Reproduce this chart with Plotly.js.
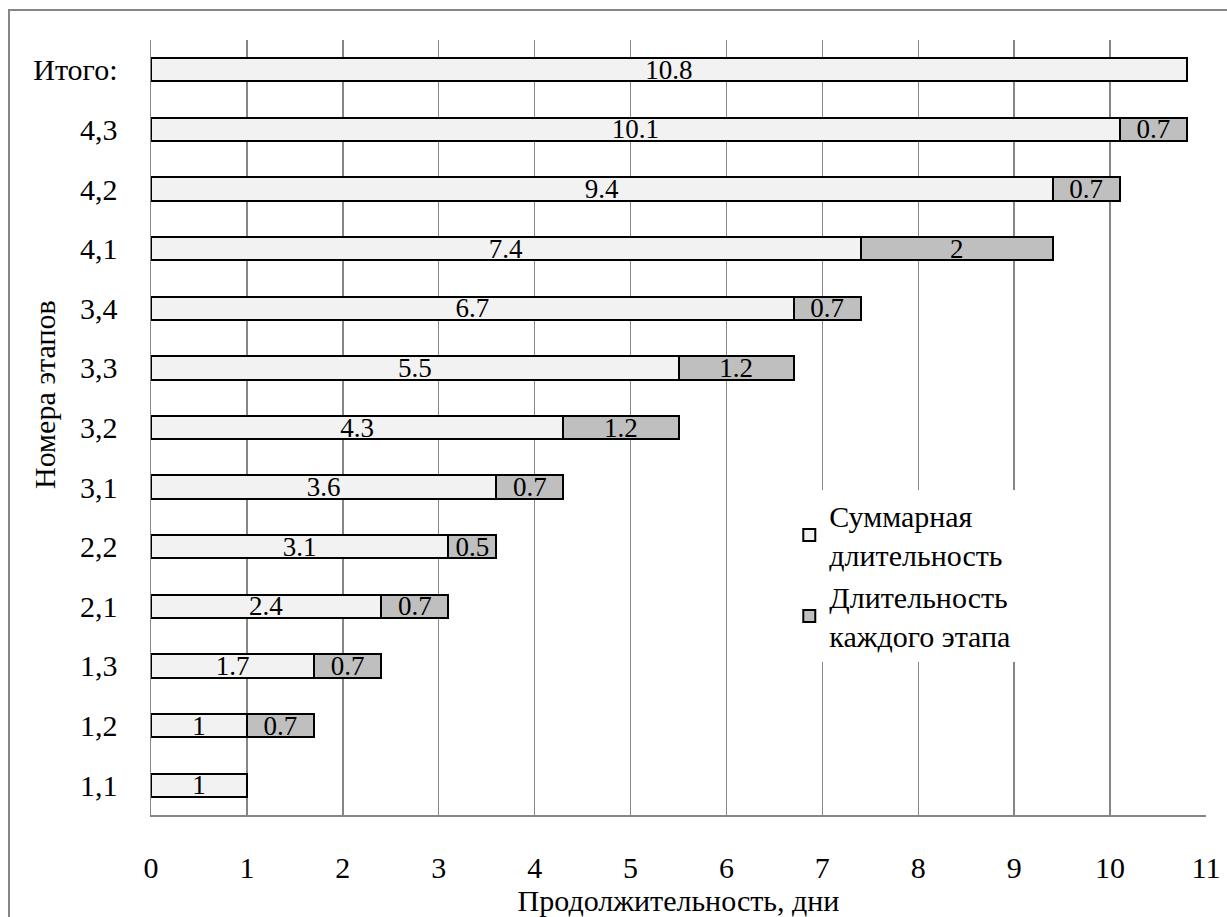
<!DOCTYPE html>
<html>
<head>
<meta charset="utf-8">
<script src="https://cdn.plot.ly/plotly-3.0.1.min.js"></script>
<style>
html,body{margin:0;padding:0;background:#fff;}
#chart{width:1227px;height:917px;}
</style>
</head>
<body>
<div id="chart"></div>
<script>
const categories = ["1,1","1,2","1,3","2,1","2,2","3,1","3,2","3,3","3,4","4,1","4,2","4,3","Итого:"];
const cumulative = [1, 1, 1.7, 2.4, 3.1, 3.6, 4.3, 5.5, 6.7, 7.4, 9.4, 10.1, 10.8];
const stageDur = [null, 0.7, 0.7, 0.7, 0.5, 0.7, 1.2, 1.2, 0.7, 2, 0.7, 0.7, null];
const xTicks = [0,1,2,3,4,5,6,7,8,9,10,11];
const seriesNames = ["Суммарная<br>длительность", "Длительность<br>каждого этапа"];
const xTitle = "Продолжительность, дни";
const yTitle = "Номера этапов";

const FONT = "Liberation Serif";

const fmt = v => (v === null ? "" : String(v));

const traces = [
  {
    type: "bar", orientation: "h",
    y: categories, x: cumulative,
    name: seriesNames[0],
    marker: {color: "#f2f2f2", line: {color: "#000", width: 2}},
    text: cumulative.map(fmt),
    textposition: "inside",
    insidetextanchor: "middle",
    constraintext: "none",
    textangle: 0,
    textfont: {family: FONT, size: 27, color: "#000"},
    hoverinfo: "skip"
  },
  {
    type: "bar", orientation: "h",
    y: categories, x: stageDur,
    name: seriesNames[1],
    marker: {color: "#bfbfbf", line: {color: "#000", width: 2}},
    text: stageDur.map(fmt),
    textposition: "inside",
    insidetextanchor: "middle",
    constraintext: "none",
    textangle: 0,
    textfont: {family: FONT, size: 27, color: "#000"},
    hoverinfo: "skip"
  }
];

const layout = {
  width: 1227, height: 917,
  margin: {l: 151, r: 21, t: 40, b: 102},
  paper_bgcolor: "#fff", plot_bgcolor: "#fff",
  barmode: "stack",
  bargap: 0.61,
  font: {family: FONT, size: 30, color: "#000"},
  xaxis: {
    range: [0, 11],
    tickvals: xTicks,
    ticktext: xTicks.map(String),
    showgrid: true, gridcolor: "#868686", gridwidth: 1.5,
    zeroline: false,
    showline: true, linecolor: "#868686", linewidth: 1.5,
    ticks: "", ticklabelstandoff: 25,
    tickfont: {family: FONT, size: 30, color: "#000"},
    title: {text: xTitle, font: {family: FONT, size: 30, color: "#000"}, standoff: 5},
    fixedrange: true
  },
  yaxis: {
    type: "category",
    categoryorder: "array", categoryarray: categories,
    showgrid: false, zeroline: false,
    showline: true, linecolor: "#868686", linewidth: 1.5,
    ticks: "", ticklabelstandoff: 26,
    tickfont: {family: FONT, size: 30, color: "#000"},
    fixedrange: true
  },
  annotations: [
    {text: yTitle, xref: "paper", yref: "paper", x: (45 - 151) / 1055, y: (815 - 395) / 775,
     xanchor: "center", yanchor: "middle", textangle: -90, showarrow: false,
     font: {family: FONT, size: 30, color: "#000"}}
  ],
  showlegend: true,
  legend: {
    x: 0.605, y: 0.42, xanchor: "left", yanchor: "top",
    bgcolor: "#fff", borderwidth: 0,
    traceorder: "normal",
    font: {family: FONT, size: 30, color: "#000"},
    itemwidth: 30,
    tracegroupgap: 2
  },
  shapes: [
    {type: "rect", xref: "paper", yref: "paper",
     x0: (9 - 151) / 1055, x1: 1.2, y0: -0.3, y1: (815 - 10) / 775,
     line: {color: "#868686", width: 2}, fillcolor: "rgba(0,0,0,0)", layer: "below"}
  ]
};

Plotly.newPlot("chart", traces, layout, {staticPlot: true, displayModeBar: false});
</script>
</body>
</html>
